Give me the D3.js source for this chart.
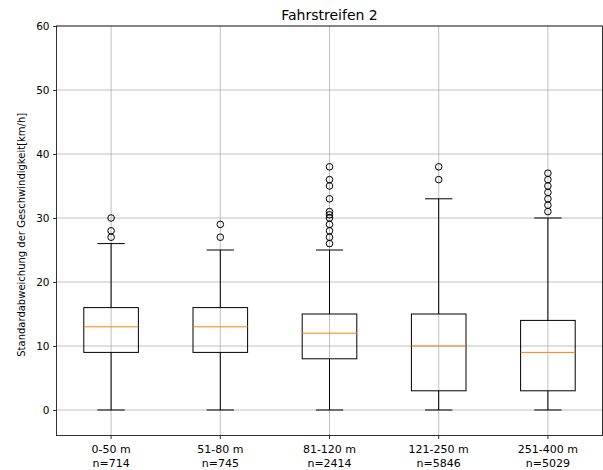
<!DOCTYPE html>
<html><head><meta charset="utf-8">
<script src="https://cdn.jsdelivr.net/npm/d3@7"></script>
<style>body{margin:0;background:#fff}svg{display:block}text{font-family:"DejaVu Sans",sans-serif;fill:#000}</style>
</head><body>
<script>
const categories = ["0-50 m", "51-80 m", "81-120 m", "121-250 m", "251-400 m"];
const counts = [714, 745, 2414, 5846, 5029];
const whiskerLow = [0, 0, 0, 0, 0];
const q1 = [9, 9, 8, 3, 3];
const median = [13, 13, 12, 10, 9];
const q3 = [16, 16, 15, 15, 14];
const whiskerHigh = [26, 25, 25, 33, 30];
const outliers = [
  [27, 28, 30],
  [27, 29],
  [26, 27, 28, 29, 30, 30.5, 31, 33, 35, 36, 38],
  [36, 38],
  [31, 32, 33, 34, 35, 36, 37]
];
const yTicks = [0, 10, 20, 30, 40, 50, 60];
const title = "Fahrstreifen 2";
const yLabel = "Standardabweichung der Geschwindigkeit[km/h]";

const W = 603, H = 470;
const m = {l: 56.5, r: 602.5, t: 26, b: 435.6};
const svg = d3.select("body").append("svg").attr("width", W).attr("height", H);

const x = d3.scaleLinear().domain([0.5, categories.length + 0.5]).range([m.l, m.r]);
const y = d3.scaleLinear().domain([-4, 60]).range([m.b, m.t]);

// grid
const g = svg.append("g");
g.selectAll(".hg").data(yTicks).enter().append("line")
  .attr("x1", m.l).attr("x2", m.r).attr("y1", d => y(d)).attr("y2", d => y(d))
  .attr("stroke", "#b0b0b0").attr("stroke-width", 0.8);
g.selectAll(".vg").data(categories).enter().append("line")
  .attr("x1", (d,i) => x(i+1)).attr("x2", (d,i) => x(i+1)).attr("y1", m.t).attr("y2", m.b)
  .attr("stroke", "#b0b0b0").attr("stroke-width", 0.8);

// boxes
const bw = (x(2) - x(1)) * 0.5;
const cw = bw / 2;
categories.forEach((c, i) => {
  const cx = x(i+1);
  const bg = svg.append("g");
  bg.append("line").attr("x1", cx).attr("x2", cx).attr("y1", y(q1[i])).attr("y2", y(whiskerLow[i])).attr("stroke", "#000").attr("stroke-width", 1);
  bg.append("line").attr("x1", cx).attr("x2", cx).attr("y1", y(q3[i])).attr("y2", y(whiskerHigh[i])).attr("stroke", "#000").attr("stroke-width", 1);
  bg.append("line").attr("x1", cx - cw/2).attr("x2", cx + cw/2).attr("y1", y(whiskerLow[i])).attr("y2", y(whiskerLow[i])).attr("stroke", "#000");
  bg.append("line").attr("x1", cx - cw/2).attr("x2", cx + cw/2).attr("y1", y(whiskerHigh[i])).attr("y2", y(whiskerHigh[i])).attr("stroke", "#000");
  bg.append("rect").attr("x", cx - bw/2).attr("width", bw).attr("y", y(q3[i])).attr("height", y(q1[i]) - y(q3[i]))
    .attr("fill", "none").attr("stroke", "#000").attr("stroke-width", 1);
  bg.append("line").attr("x1", cx - bw/2).attr("x2", cx + bw/2).attr("y1", y(median[i])).attr("y2", y(median[i])).attr("stroke", "#ff7f0e").attr("stroke-width", 1);
  bg.selectAll("circle").data(outliers[i]).enter().append("circle")
    .attr("cx", cx).attr("cy", d => y(d)).attr("r", 3.3)
    .attr("fill", "none").attr("stroke", "#000").attr("stroke-width", 1);
});

// axes
const yAxis = d3.axisLeft(y).tickValues(yTicks).tickSize(3.5).tickPadding(3.5);
const ya = svg.append("g").attr("transform", `translate(${m.l},0)`).call(yAxis);
ya.select(".domain").remove();
ya.selectAll("text").attr("font-size", 10.5).attr("font-family", "DejaVu Sans").attr("fill", "#000");
ya.selectAll("line").attr("stroke", "#000").attr("stroke-width", 0.8);

const xa = svg.append("g").attr("transform", `translate(0,${m.b})`);
categories.forEach((c, i) => {
  const cx = x(i+1);
  xa.append("line").attr("x1", cx).attr("x2", cx).attr("y1", 0).attr("y2", 3.5).attr("stroke", "#000").attr("stroke-width", 0.8);
  const t = xa.append("text").attr("text-anchor", "middle").attr("font-size", 11).attr("x", cx);
  t.append("tspan").attr("x", cx).attr("y", 17).text(c);
  t.append("tspan").attr("x", cx).attr("y", 31).text("n=" + counts[i]);
});

svg.append("rect").attr("x", m.l).attr("y", m.t).attr("width", m.r - m.l).attr("height", m.b - m.t)
  .attr("fill", "none").attr("stroke", "#000").attr("stroke-width", 0.8);

svg.append("text").attr("x", (m.l + m.r)/2).attr("y", 20).attr("text-anchor", "middle").attr("font-size", 14).text(title);
svg.append("text").attr("transform", `translate(25,${(m.t + m.b)/2 + 4}) rotate(-90)`).attr("text-anchor", "middle").attr("font-size", 10).text(yLabel);
</script>
</body></html>
